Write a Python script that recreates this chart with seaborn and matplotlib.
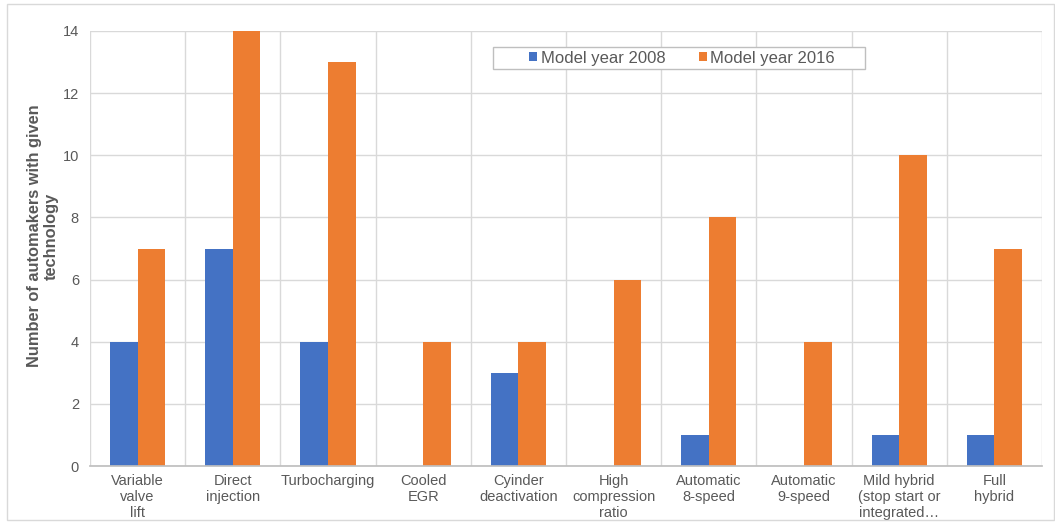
import matplotlib
matplotlib.use("Agg")
import matplotlib.pyplot as plt
import matplotlib.patches as mpatches
from matplotlib.ticker import FixedLocator
import seaborn as sns
import pandas as pd

categories = ["Variable\nvalve\nlift", "Direct\ninjection", "Turbocharging", "Cooled\nEGR",
              "Cyinder\ndeactivation", "High\ncompression\nratio", "Automatic\n8-speed",
              "Automatic\n9-speed", "Mild hybrid\n(stop start or\nintegrated…", "Full\nhybrid"]
series_names = ["Model year 2008", "Model year 2016"]
values_2008 = [4, 7, 4, 0, 3, 0, 1, 0, 1, 1]
values_2016 = [7, 14, 13, 4, 4, 6, 8, 4, 10, 7]
y_ticks = [0, 2, 4, 6, 8, 10, 12, 14]

df = pd.DataFrame({
    "category": categories * 2,
    "series": [series_names[0]] * len(categories) + [series_names[1]] * len(categories),
    "value": values_2008 + values_2016,
})

sns.set_theme(style="white")
plt.rcParams["font.family"] = ["Liberation Sans", "DejaVu Sans"]

W, H = 1055, 524
fig = plt.figure(figsize=(W / 100, H / 100), dpi=100)
ax_l, ax_r, ax_t, ax_b = 90, 1042, 31, 466
ax = fig.add_axes([ax_l / W, 1 - ax_b / H, (ax_r - ax_l) / W, (ax_b - ax_t) / H])

sns.barplot(data=df, x="category", y="value", hue="series", order=categories,
            hue_order=series_names, palette=["#4472C4", "#ED7D31"], width=0.58,
            saturation=1, ax=ax, legend=True, linewidth=0)

ax.set_ylim(0, 14)
ax.set_xlim(-0.5, len(categories) - 0.5)
ax.set_yticks(y_ticks)
ax.xaxis.set_minor_locator(FixedLocator([i - 0.5 for i in range(len(categories) + 1)]))
ax.grid(axis="y", which="major", color="#d9d9d9", linewidth=1)
ax.grid(axis="x", which="minor", color="#d9d9d9", linewidth=1)
ax.grid(axis="x", which="major", visible=False)
ax.set_axisbelow(True)
for s in ["top", "right", "left"]:
    ax.spines[s].set_visible(False)
ax.spines["bottom"].set_color("#bfbfbf")
ax.tick_params(axis="both", which="both", length=0, colors="#595959", labelsize=10.5)
ax.tick_params(axis="x", pad=5.5)
ax.tick_params(axis="y", pad=8)
ax.set_xlabel("")
ax.set_ylabel("Number of automakers with given\ntechnology", fontsize=11.8, fontweight="bold",
              color="#595959", linespacing=1.15)
ax.yaxis.set_label_coords((59 - ax_l) / (ax_r - ax_l), (ax_b - 236) / (ax_b - ax_t))

def ax_x(px):
    return (px - ax_l) / (ax_r - ax_l)

def ax_y(py):
    return (ax_b - py) / (ax_b - ax_t)

leg = ax.legend(loc="center", bbox_to_anchor=(ax_x(682), ax_y(58)), ncol=2,
                frameon=False, fontsize=12, handlelength=0.5, handleheight=0.5,
                handletextpad=0.2, columnspacing=2.0, borderpad=0.3)
for t in leg.get_texts():
    t.set_color("#595959")

ax.add_patch(mpatches.Rectangle((ax_x(493), ax_y(69)), ax_x(865) - ax_x(493), ax_y(47) - ax_y(69),
                                transform=ax.transAxes, fill=True, facecolor="white",
                                edgecolor="#bfbfbf", linewidth=1, zorder=4, clip_on=False))
leg.set_zorder(5)

fig.patches.append(mpatches.Rectangle((7 / W, 4 / H), 1 - 8 / W, 1 - 8 / H,
                                      transform=fig.transFigure, fill=False,
                                      edgecolor="#d9d9d9", linewidth=1))

fig.savefig("out.png", dpi=100)
